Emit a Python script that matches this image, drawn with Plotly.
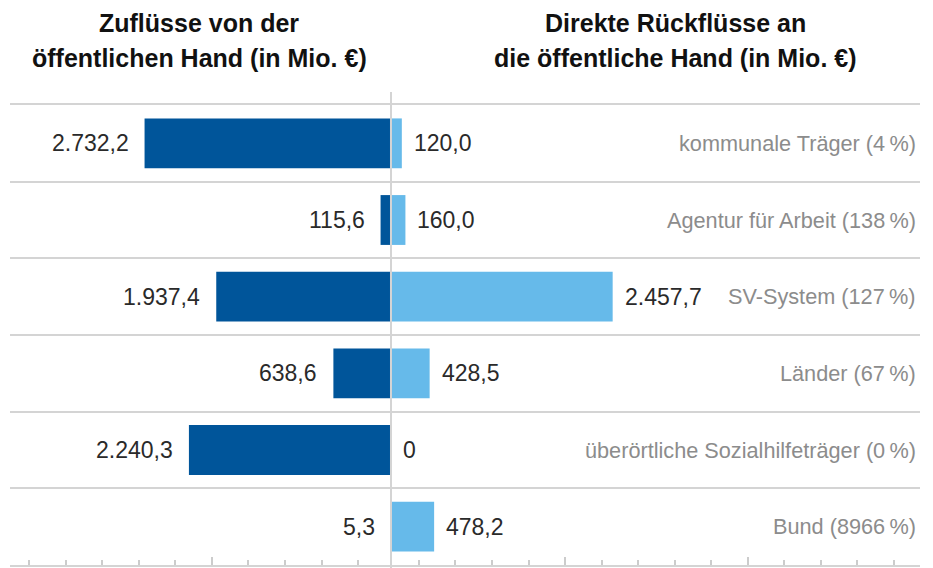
import plotly.graph_objects as go

# ---- data ----
categories = [
    "kommunale Träger (4\u2009%)",
    "Agentur für Arbeit (138\u2009%)",
    "SV-System (127\u2009%)",
    "Länder (67\u2009%)",
    "überörtliche Sozialhilfeträger (0\u2009%)",
    "Bund (8966\u2009%)",
]
zufluesse = [2732.2, 115.6, 1937.4, 638.6, 2240.3, 5.3]
rueckfluesse = [120.0, 160.0, 2457.7, 428.5, 0.0, 478.2]
title_left = ["Zuflüsse von der", "öffentlichen Hand (in Mio. €)"]
title_right = ["Direkte Rückflüsse an", "die öffentliche Hand (in Mio. €)"]

# axis tick marks (data units)
tick_step = 405
left_minor = [-(365 + tick_step * k) for k in range(10)]
right_minor = [310 + tick_step * k for k in range(14)]
major_ticks = [left_minor[4], right_minor[4], right_minor[9]]
minor_ticks = [t for t in left_minor + right_minor if t not in major_ticks]

FONT = "Liberation Sans, Arial, Helvetica, sans-serif"
DARK = "#00559a"
LIGHT = "#66baea"
GRID = "#d4d4d4"


def fmt(v):
    if v == 0:
        return "0"
    s = f"{v:,.1f}"
    return s.replace(",", "X").replace(".", ",").replace("X", ".")


ypos = list(range(len(categories)))

fig = go.Figure()
fig.add_trace(go.Bar(
    x=[-v for v in zufluesse], y=ypos, orientation="h", width=0.65,
    marker=dict(color=DARK, line=dict(width=0)), hoverinfo="skip",
))
fig.add_trace(go.Bar(
    x=rueckfluesse, y=ypos, orientation="h", width=0.65,
    marker=dict(color=LIGHT, line=dict(width=0)), hoverinfo="skip",
))

annotations = []
for i, cat in enumerate(categories):
    annotations.append(dict(
        x=-zufluesse[i], y=ypos[i], xref="x", yref="y", text=fmt(zufluesse[i]),
        xanchor="right", yanchor="middle", xshift=-14, showarrow=False,
        font=dict(family=FONT, size=23, color="#2a2a2a"),
    ))
    annotations.append(dict(
        x=rueckfluesse[i], y=ypos[i], xref="x", yref="y", text=fmt(rueckfluesse[i]),
        xanchor="left", yanchor="middle", xshift=10, showarrow=False,
        font=dict(family=FONT, size=23, color="#2a2a2a"),
    ))
    annotations.append(dict(
        x=1, y=ypos[i], xref="paper", yref="y", text=cat,
        xanchor="right", yanchor="middle", xshift=-2, showarrow=False,
        font=dict(family=FONT, size=21.7, color="#8c8c8c"),
    ))

for xc, lines in ((0.2077, title_left), (0.731, title_right)):
    for j, line in enumerate(lines):
        annotations.append(dict(
            x=xc, y=[1.178, 1.103][j], xref="paper", yref="paper", text="<b>" + line + "</b>",
            xanchor="center", yanchor="middle", showarrow=False,
            font=dict(family=FONT, size=25, color="#111111"),
        ))

fig.update_layout(
    width=933, height=568,
    margin=dict(l=10, r=13, t=105, b=3),
    paper_bgcolor="white", plot_bgcolor="white",
    barmode="overlay", showlegend=False, hovermode=False,
    annotations=annotations,
    shapes=[dict(
        type="line", xref="x", yref="paper", x0=0, x1=0, y0=-0.01, y1=1.028,
        line=dict(color=GRID, width=2), layer="above",
    )],
    xaxis=dict(
        range=[-4224, 5865], showgrid=False, zeroline=False,
        showline=True, linecolor=GRID, linewidth=2, mirror=True,
        ticks="inside", tickvals=major_ticks, ticklen=8, tickwidth=2,
        tickcolor="#cccccc", showticklabels=False,
        minor=dict(tickmode="array", tickvals=minor_ticks, ticks="inside",
                   ticklen=5, tickwidth=1.5, tickcolor="#cccccc", showgrid=False),
        fixedrange=True,
    ),
    yaxis=dict(
        range=[5.5, -0.5], tickvals=[k - 0.5 for k in range(len(categories) + 1)],
        showticklabels=False, ticks="", showgrid=True, gridcolor=GRID, gridwidth=2,
        zeroline=False, fixedrange=True,
    ),
)

fig.write_html(
    "out.html",
    config={"displayModeBar": False},
    post_script="document.body.style.margin='0';document.body.style.overflow='hidden';",
)
